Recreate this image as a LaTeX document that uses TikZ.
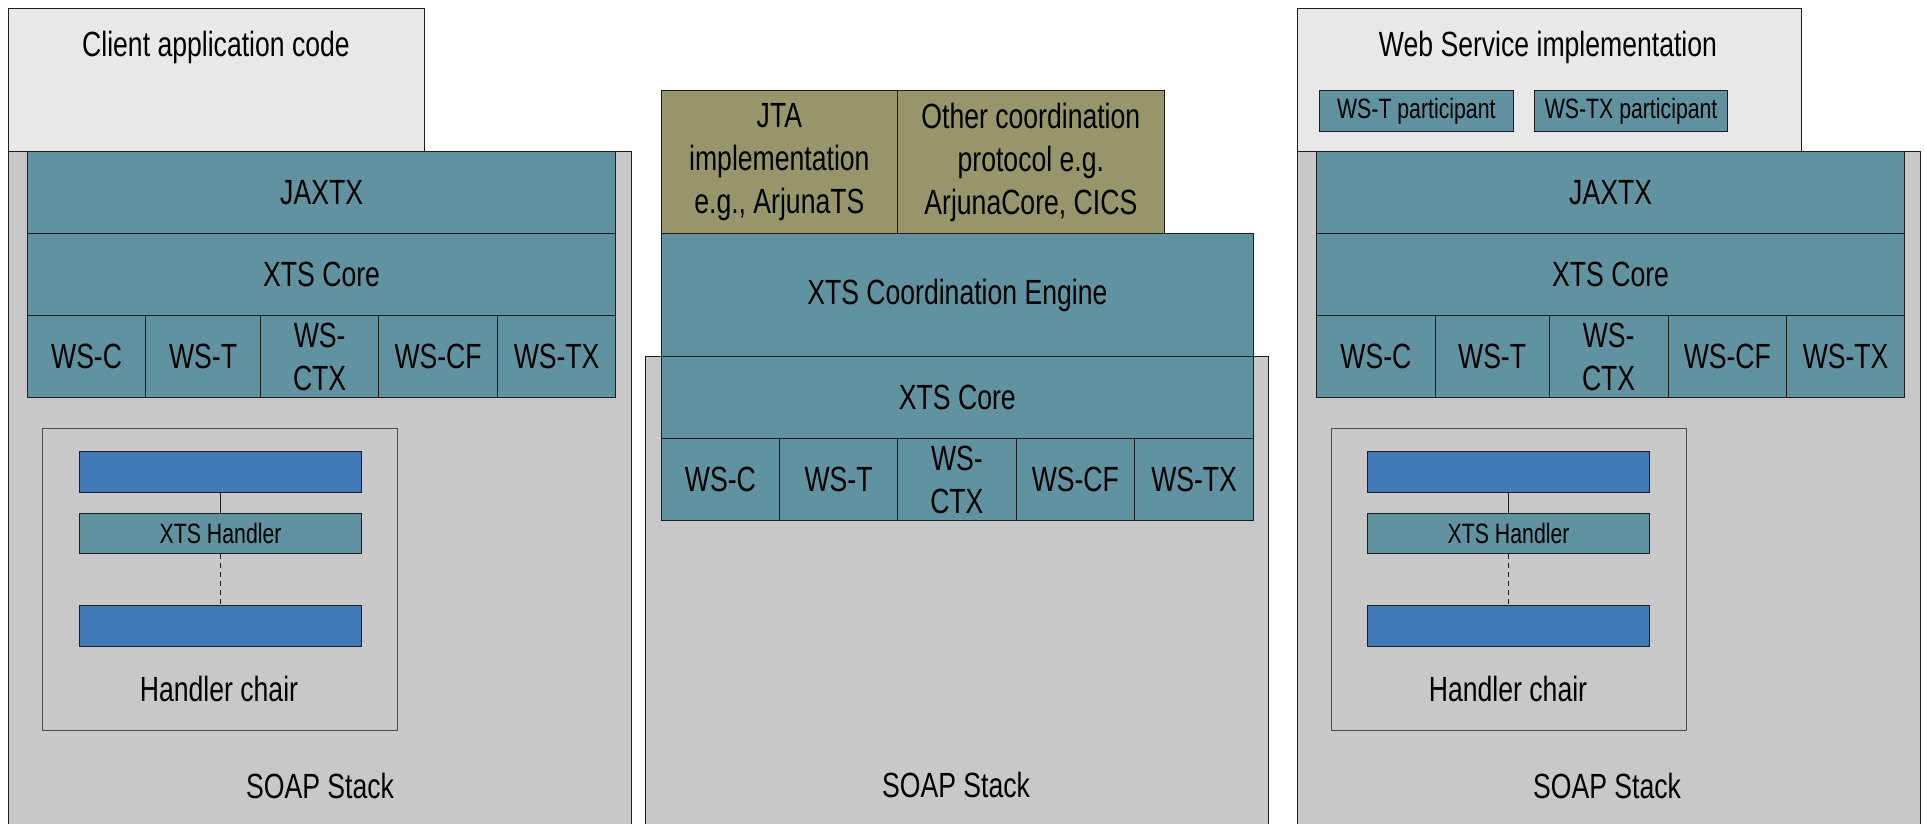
\documentclass[tikz,border=0pt]{standalone}
\usepackage{fontspec}
\setmainfont{Liberation Sans}[FakeStretch=0.76]
\newcommand\bigtxt{\fontsize{35}{43}\selectfont}
\newcommand\smalltxt{\fontsize{28}{34}\selectfont}
\definecolor{layerteal}{RGB}{96,146,159}
\definecolor{barblue}{RGB}{66,121,185}
\definecolor{olivebox}{RGB}{150,150,106}
\definecolor{stackgray}{RGB}{200,200,200}
\definecolor{appgray}{RGB}{232,232,232}
\definecolor{edge}{RGB}{30,30,30}
\tikzset{
  base/.style={draw=edge, line width=1.2pt, inner sep=0pt, anchor=north west, align=center},
  layer/.style={base, fill=layerteal, font=\bigtxt},
  smalllayer/.style={base, fill=layerteal, font=\smalltxt},
  olive/.style={base, fill=olivebox, font=\bigtxt},
  stack/.style={base, fill=stackgray},
  app/.style={base, fill=appgray},
  chainbox/.style={base, draw=edge!80, line width=1pt},
  bar/.style={base, fill=barblue},
  lbl/.style={inner sep=0pt, font=\bigtxt},
  link/.style={draw=edge, line width=1pt},
  dlink/.style={draw=edge, line width=1pt, dash pattern=on 5pt off 4pt}
}
\newcommand\mkbox[7]{\node[#6, minimum width={#4-#2}, minimum height={#5-#3}] (#1) at (#2,#3) {#7};}
\begin{document}
\begin{tikzpicture}[x=1pt,y=-1pt]
\useasboundingbox (0,0) rectangle (1925,823);
\clip (0,0) rectangle (1925,823);
\fill[white] (0,0) rectangle (1925,823);
% ---------- left panel ----------
\mkbox{appL}{8}{8}{424}{151}{app}{}
\node[lbl] (appLtxt) at (216,47) {Client application code};
\mkbox{soapL}{8}{151}{631}{850}{stack}{}
\node[lbl] (soapLtxt) at (320,786) {SOAP Stack};
\mkbox{jaxL}{27}{151}{615}{233}{layer}{JAXTX}
\mkbox{coreL}{27}{233}{615}{315}{layer}{XTS Core}
\mkbox{wscL}{27}{315}{145}{397}{layer}{WS-C}
\mkbox{wstL}{145}{315}{260}{397}{layer}{WS-T}
\mkbox{wsctxL}{260}{315}{378}{397}{layer}{WS-\\CTX}
\mkbox{wscfL}{378}{315}{497}{397}{layer}{WS-CF}
\mkbox{wstxL}{497}{315}{615}{397}{layer}{WS-TX}
\mkbox{chainL}{41.5}{428}{397}{730}{chainbox}{}
\node[lbl] (chainLtxt) at (219,689) {Handler chair};
\mkbox{barAL}{79}{451}{361}{492}{bar}{}
\mkbox{xtshL}{79}{513}{361}{553}{smalllayer}{XTS Handler}
\mkbox{barBL}{79}{605}{361}{646}{bar}{}
\draw[link] (barAL.south) -- (xtshL.north);
\draw[dlink] (xtshL.south) -- (barBL.north);
% ---------- middle panel ----------
\mkbox{soapM}{645}{356}{1268}{850}{stack}{}
\node[lbl] (soapMtxt) at (956,785) {SOAP Stack};
\mkbox{jta}{660.5}{90}{897}{233}{olive}{JTA\\implementation\\e.g., ArjunaTS}
\mkbox{other}{897}{90}{1163.5}{233}{olive}{Other coordination\\protocol e.g.\\ArjunaCore, CICS}
\mkbox{engine}{660.5}{233}{1253}{356}{layer}{XTS Coordination Engine}
\mkbox{coreM}{660.5}{356}{1253}{438}{layer}{XTS Core}
\mkbox{wscM}{660.5}{438}{779}{520}{layer}{WS-C}
\mkbox{wstM}{779}{438}{897}{520}{layer}{WS-T}
\mkbox{wsctxM}{897}{438}{1015.5}{520}{layer}{WS-\\CTX}
\mkbox{wscfM}{1015.5}{438}{1134}{520}{layer}{WS-CF}
\mkbox{wstxM}{1134}{438}{1253}{520}{layer}{WS-TX}
% ---------- right panel ----------
\mkbox{appR}{1296.5}{8}{1800.5}{151}{app}{}
\node[lbl] (appRtxt) at (1548,47) {Web Service implementation};
\mkbox{wstp}{1319}{90}{1512.5}{131}{smalllayer}{WS-T participant}
\mkbox{wstxp}{1534}{90}{1727}{131}{smalllayer}{WS-TX participant}
\mkbox{soapR}{1296.5}{151}{1919.5}{850}{stack}{}
\node[lbl] (soapRtxt) at (1607,786) {SOAP Stack};
\mkbox{jaxR}{1316}{151}{1904}{233}{layer}{JAXTX}
\mkbox{coreR}{1316}{233}{1904}{315}{layer}{XTS Core}
\mkbox{wscR}{1316}{315}{1434.5}{397}{layer}{WS-C}
\mkbox{wstR}{1434.5}{315}{1548.5}{397}{layer}{WS-T}
\mkbox{wsctxR}{1548.5}{315}{1667.5}{397}{layer}{WS-\\CTX}
\mkbox{wscfR}{1667.5}{315}{1786}{397}{layer}{WS-CF}
\mkbox{wstxR}{1786}{315}{1904}{397}{layer}{WS-TX}
\mkbox{chainR}{1330.5}{428}{1686}{730}{chainbox}{}
\node[lbl] (chainRtxt) at (1508,689) {Handler chair};
\mkbox{barAR}{1367}{451}{1649}{492}{bar}{}
\mkbox{xtshR}{1367}{513}{1649}{553}{smalllayer}{XTS Handler}
\mkbox{barBR}{1367}{605}{1649}{646}{bar}{}
\draw[link] (barAR.south) -- (xtshR.north);
\draw[dlink] (xtshR.south) -- (barBR.north);
\end{tikzpicture}
\end{document}
